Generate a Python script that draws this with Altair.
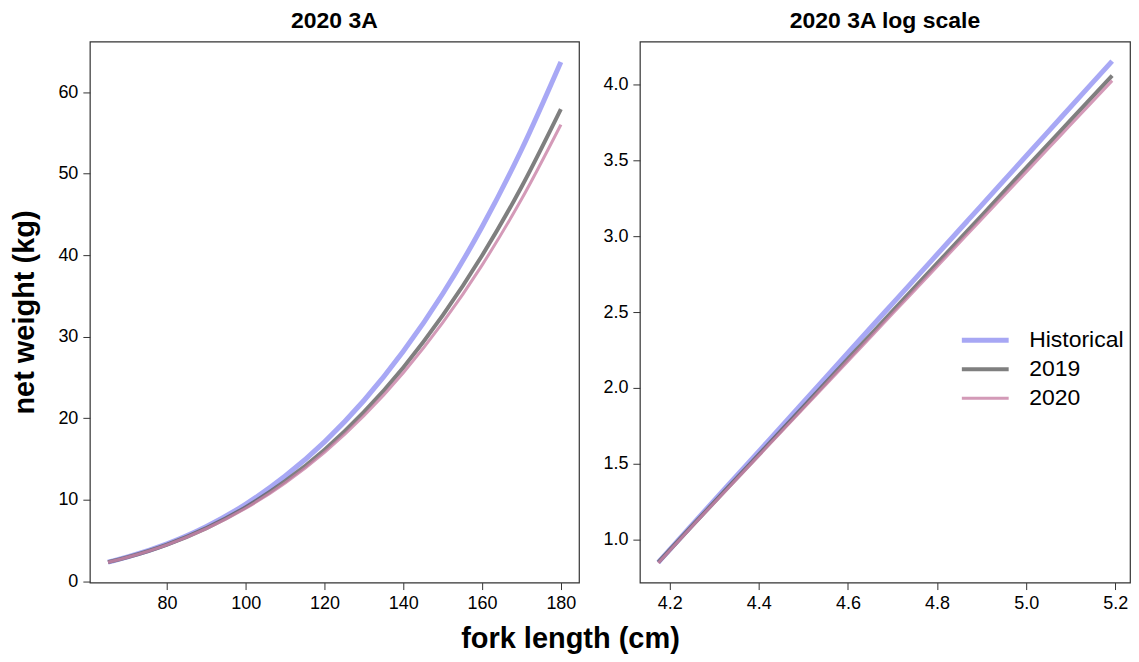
import altair as alt
import pandas as pd

# fork length (cm) at which the curves were read
lengths = [65, 70, 80, 90, 100, 110, 120, 130, 140, 150, 160, 170, 180]
# net weight (kg)
w_hist = [2.34, 2.98, 4.59, 6.72, 9.47, 12.90, 17.10, 22.17, 28.20, 35.26, 43.48, 52.93, 63.70]
w_2019 = [2.34, 2.96, 4.50, 6.52, 9.09, 12.27, 16.14, 20.77, 26.23, 32.60, 39.95, 48.35, 57.90]
w_2020 = [2.33, 2.95, 4.47, 6.45, 8.96, 12.06, 15.82, 20.30, 25.58, 31.71, 38.78, 46.85, 56.00]

series = ["Historical", "2019", "2020"]
colors = ["#9292f2", "#5f5f5f", "#c981a6"]
widths = [5, 3, 3]

x_ticks_lin = [80, 100, 120, 140, 160, 180]
y_ticks_lin = [0, 10, 20, 30, 40, 50, 60]
x_ticks_log = [4.2, 4.4, 4.6, 4.8, 5.0, 5.2]
y_ticks_log = [1.0, 1.5, 2.0, 2.5, 3.0, 3.5, 4.0]

rows = []
for s, ws in zip(series, [w_hist, w_2019, w_2020]):
    for L, W in zip(lengths, ws):
        rows.append({"L": L, "W": W, "series": s})
df = pd.DataFrame(rows)

FONT = "Liberation Sans"

def ax(values, title=None, fmt=None):
    kw = dict(values=values, domain=False, grid=False, ticks=True, tickSize=7,
              tickColor="#333333", tickWidth=1, labelFont=FONT, labelFontSize=18,
              labelColor="black", labelPadding=5, labelAngle=0, labelOverlap=False)
    if fmt:
        kw["format"] = fmt
    if title:
        kw.update(title=title, titleFont=FONT, titleFontSize=29, titleFontWeight="bold",
                  titleColor="black", titlePadding=18)
    else:
        kw["title"] = None
    return alt.Axis(**kw)

def color_enc(legend):
    return alt.Color("series:N", scale=alt.Scale(domain=series, range=colors), legend=legend)

def width_enc(legend):
    return alt.StrokeWidth("series:N", scale=alt.Scale(domain=series, range=widths), legend=legend)

def panel_title(t):
    return alt.TitleParams(t, font=FONT, fontSize=23, fontWeight="bold", color="black", offset=9)

left = alt.Chart(df).mark_line(interpolate="monotone", opacity=0.8).encode(
    x=alt.X("L:Q", scale=alt.Scale(domain=[60.4, 184.6], nice=False, zero=False), axis=ax(x_ticks_lin)),
    y=alt.Y("W:Q", scale=alt.Scale(domain=[-0.16, 66.2], nice=False, zero=False),
            axis=ax(y_ticks_lin, title="net weight (kg)")),
    color=color_enc(None),
    strokeWidth=width_enc(None),
).properties(width=490, height=542, title=panel_title("2020 3A"))

leg = alt.Legend(orient="none", legendX=320, legendY=286, title=None, symbolType="stroke",
                 symbolSize=2200, labelFont=FONT, labelFontSize=23, labelColor="black",
                 labelOffset=18, clipHeight=26.5, rowPadding=2, symbolOpacity=0.8)

right = alt.Chart(df).transform_calculate(
    lx="log(datum.L)", lw="log(datum.W)"
).mark_line(interpolate="monotone", opacity=0.8).encode(
    x=alt.X("lx:Q", scale=alt.Scale(domain=[4.133, 5.233], nice=False, zero=False),
            axis=ax(x_ticks_log, fmt=".1f")),
    y=alt.Y("lw:Q", scale=alt.Scale(domain=[0.717, 4.283], nice=False, zero=False),
            axis=ax(y_ticks_log, fmt=".1f")),
    color=color_enc(leg),
    strokeWidth=width_enc(leg),
).properties(width=491, height=542, title=panel_title("2020 3A log scale"))

chart = alt.hconcat(left, right, spacing=22).resolve_legend(
    color="independent", strokeWidth="independent"
).properties(
    title=alt.TitleParams("fork length (cm)", orient="bottom", anchor="middle", font=FONT,
                          fontSize=29, fontWeight="bold", color="black", offset=12),
    padding={"left": 2, "top": 0, "right": 0, "bottom": 0},
).configure_view(stroke="#333333", strokeWidth=1.2)

chart.save("out.html", embed_options={"renderer": "svg", "actions": False})
